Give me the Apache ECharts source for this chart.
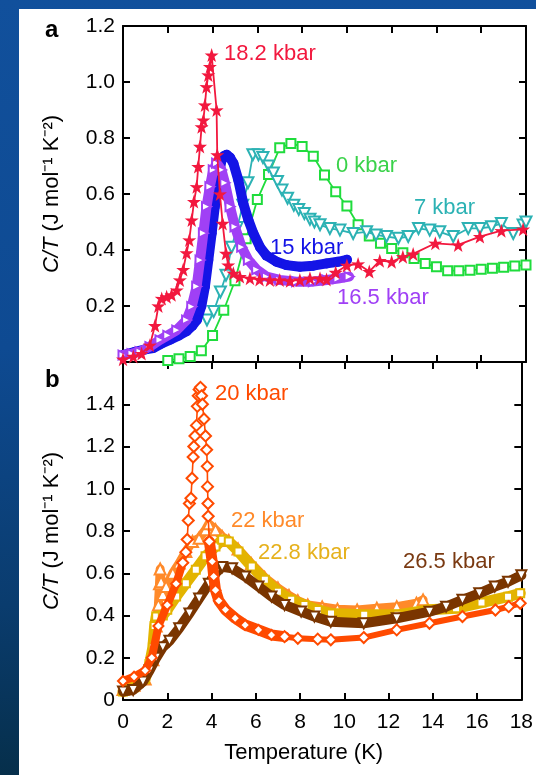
<!DOCTYPE html>
<html>
<head>
<meta charset="utf-8">
<script src="https://cdn.jsdelivr.net/npm/echarts@6/dist/echarts.min.js"></script>
<style>
html, body { margin: 0; padding: 0; }
body {
  width: 536px; height: 775px; overflow: hidden; position: relative;
  background: linear-gradient(180deg, #11509c 0%, #0e4a92 45%, #0a3c6e 78%, #062f4b 100%);
}
#panel { position: absolute; left: 19px; top: 9px; width: 517px; height: 766px; background: #fff; }
#chart { position: absolute; left: 0; top: 0; width: 536px; height: 775px; }
</style>
</head>
<body>
<div id="panel"></div>
<div id="chart"></div>
<script>
// axis ranges / ticks
const tempRange = [0, 18]
const tempStep = 2
const ctRangeA = [0, 1.2]
const ctRangeB = [0, 1.6]
const ctStep = 0.2

// panel a
const t0 = [2.0, 2.5, 3.0, 3.5, 4.0, 4.5, 5.0, 5.5, 6.0, 6.5, 7.0, 7.5, 8.0, 8.5, 9.0, 9.5, 10.0, 10.5, 11.0, 11.5, 12.0, 12.5, 13.0, 13.5, 14.0, 14.5, 15.0, 15.5, 16.0, 16.5, 17.0, 17.5, 18.0]
const c0 = [0.005, 0.012, 0.02, 0.04, 0.095, 0.185, 0.29, 0.44, 0.58, 0.67, 0.765, 0.78, 0.77, 0.735, 0.668, 0.608, 0.557, 0.49, 0.45, 0.424, 0.405, 0.39, 0.37, 0.352, 0.34, 0.326, 0.326, 0.328, 0.331, 0.335, 0.338, 0.343, 0.346]

const t7 = [3.75, 4.05, 4.35, 4.6, 4.85, 5.1, 5.35, 5.58, 5.8, 6.05, 6.25, 6.5, 6.72, 6.9, 7.1, 7.35, 7.63, 7.85, 8.1, 8.35, 8.55, 8.8, 9.24, 9.69, 10.28, 10.88, 11.3, 11.77, 12.3, 12.74, 13.2, 13.7, 14.15, 14.75, 15.42, 15.94, 16.46, 16.9, 17.43, 17.87, 18.0]
const c7 = [0.15, 0.18, 0.25, 0.31, 0.41, 0.48, 0.56, 0.64, 0.74, 0.74, 0.73, 0.70, 0.675, 0.645, 0.614, 0.585, 0.56, 0.545, 0.53, 0.51, 0.5, 0.49, 0.477, 0.471, 0.459, 0.465, 0.454, 0.448, 0.442, 0.448, 0.477, 0.471, 0.465, 0.448, 0.477, 0.477, 0.483, 0.495, 0.459, 0.489, 0.5]

const t15 = [0, 0.5, 1.0, 1.35, 1.7, 2.1, 2.5, 2.84, 3.1, 3.3, 3.5, 3.66, 3.81, 3.96, 4.1, 4.26, 4.4, 4.5, 4.63, 4.78, 4.93, 5.15, 5.37, 5.6, 5.82, 6.12, 6.41, 6.86, 7.3, 7.9, 8.5, 9.1, 9.6, 10.0]
const c15 = [0.025, 0.035, 0.045, 0.05, 0.065, 0.08, 0.095, 0.11, 0.13, 0.15, 0.2, 0.27, 0.364, 0.46, 0.555, 0.66, 0.72, 0.735, 0.74, 0.73, 0.71, 0.65, 0.567, 0.507, 0.46, 0.41, 0.38, 0.358, 0.346, 0.34, 0.344, 0.352, 0.358, 0.365]

const t165 = [0, 0.4, 0.76, 1.2, 1.65, 2.0, 2.4, 2.84, 3.07, 3.29, 3.44, 3.59, 3.73, 3.88, 4.03, 4.18, 4.4, 4.55, 4.78, 5.0, 5.3, 5.6, 5.97, 6.41, 7.0, 7.75, 8.5, 9.1, 9.6, 10.1]
const c165 = [0.025, 0.03, 0.037, 0.055, 0.079, 0.095, 0.114, 0.15, 0.198, 0.27, 0.364, 0.46, 0.555, 0.626, 0.686, 0.71, 0.686, 0.64, 0.555, 0.483, 0.41, 0.364, 0.33, 0.305, 0.293, 0.287, 0.287, 0.293, 0.298, 0.305]

const t182 = [0.0, 0.46, 0.83, 1.2, 1.43, 1.58, 1.73, 1.95, 2.17, 2.4, 2.54, 2.69, 2.84, 2.96, 3.07, 3.17, 3.29, 3.36, 3.44, 3.51, 3.59, 3.66, 3.73, 3.81, 3.88, 3.96, 4.18, 4.21, 4.33, 4.45, 4.6, 4.7, 4.93, 5.22, 5.67, 6.1, 6.56, 7.0, 7.46, 7.9, 8.35, 8.8, 9.09, 9.5, 10.0, 10.5, 11.0, 11.47, 12.0, 12.5, 12.96, 13.95, 14.97, 15.94, 16.9, 17.87]
const c182 = [0.01, 0.02, 0.03, 0.06, 0.13, 0.2, 0.227, 0.233, 0.24, 0.257, 0.293, 0.33, 0.39, 0.436, 0.507, 0.573, 0.626, 0.698, 0.77, 0.84, 0.864, 0.918, 0.983, 1.025, 1.055, 1.096, 0.9, 0.74, 0.6, 0.495, 0.388, 0.346, 0.317, 0.305, 0.299, 0.295, 0.293, 0.293, 0.29, 0.293, 0.299, 0.299, 0.295, 0.32, 0.345, 0.35, 0.323, 0.362, 0.358, 0.376, 0.386, 0.424, 0.418, 0.448, 0.469, 0.474]

// panel b
const t20 = [0, 0.5, 1.0, 1.3, 1.6, 2.0, 2.4, 2.7, 2.84, 2.9, 2.95, 3.0, 3.07, 3.12, 3.17, 3.2, 3.25, 3.32, 3.36, 3.4, 3.44, 3.5, 3.55, 3.59, 3.66, 3.73, 3.78, 3.81, 3.82, 3.84, 3.85, 3.9, 4.03, 4.1, 4.18, 4.33, 4.63, 5.07, 5.52, 6.12, 6.71, 7.3, 7.9, 8.8, 9.39, 10.88, 12.37, 13.85, 15.34, 16.83, 17.43, 17.95]
const c20 = [0.09, 0.11, 0.14, 0.2, 0.35, 0.45, 0.55, 0.65, 0.70, 0.76, 0.85, 0.93, 0.955, 1.05, 1.15, 1.2, 1.25, 1.3, 1.39, 1.44, 1.47, 1.48, 1.44, 1.40, 1.33, 1.25, 1.185, 1.106, 1.01, 0.93, 0.87, 0.75, 0.656, 0.585, 0.52, 0.47, 0.427, 0.387, 0.355, 0.332, 0.308, 0.3, 0.292, 0.288, 0.285, 0.2955, 0.332, 0.363, 0.395, 0.426, 0.442, 0.458]

const t22 = [0, 0.5, 1.0, 1.35, 1.5, 1.6, 1.65, 1.68, 1.72, 1.8, 1.95, 2.25, 2.54, 2.84, 3.14, 3.44, 3.73, 3.88, 4.18, 4.48, 4.78, 5.2, 5.8, 6.4, 7.0, 7.5, 7.9, 8.35, 9.0, 9.69, 10.58, 11.47, 12.37, 13.26, 13.56]
const c22 = [0.05, 0.07, 0.1, 0.19, 0.35, 0.45, 0.55, 0.62, 0.56, 0.5, 0.537, 0.6, 0.648, 0.703, 0.75, 0.766, 0.806, 0.834, 0.806, 0.774, 0.755, 0.715, 0.645, 0.58, 0.53, 0.495, 0.47, 0.45, 0.44, 0.43, 0.426, 0.434, 0.442, 0.458, 0.474]

const t228 = [0, 0.5, 1.0, 1.2, 1.35, 1.43, 1.5, 1.8, 2.0, 2.4, 2.84, 3.29, 3.73, 4.18, 4.48, 4.78, 5.22, 5.82, 6.41, 7.0, 7.6, 8.2, 8.8, 9.4, 10.9, 12.4, 13.85, 15.05, 16.2, 17.4, 17.95]
const c228 = [0.04, 0.06, 0.1, 0.17, 0.25, 0.35, 0.395, 0.4, 0.427, 0.49, 0.553, 0.616, 0.68, 0.727, 0.758, 0.75, 0.703, 0.632, 0.569, 0.513, 0.474, 0.45, 0.426, 0.41, 0.403, 0.403, 0.427, 0.434, 0.461, 0.489, 0.505]

const t265 = [0, 0.46, 0.9, 1.2, 1.5, 1.8, 2.1, 2.54, 3.0, 3.44, 3.88, 4.18, 4.48, 4.93, 5.52, 6.12, 6.71, 7.3, 8.05, 8.65, 9.39, 10.88, 12.37, 13.85, 14.6, 15.34, 16.1, 16.8, 17.4, 18.0]
const c265 = [0.04, 0.047, 0.087, 0.14, 0.2, 0.25, 0.28, 0.34, 0.41, 0.48, 0.55, 0.6, 0.63, 0.624, 0.585, 0.537, 0.49, 0.45, 0.419, 0.395, 0.37, 0.363, 0.387, 0.418, 0.442, 0.474, 0.505, 0.537, 0.56, 0.59]

const FONT = '"Liberation Sans", Arial, Helvetica, sans-serif'
const STAR = 'path://M50,0 L61.8,35.3 L97.6,34.5 L69.1,56.5 L79.4,90.5 L50,70 L20.6,90.5 L30.9,56.5 L2.4,34.5 L38.2,35.3 Z'

const col = {
  p0: '#1fdc3c', p7: '#2cb2b4', p15: '#1414e6', p165: '#a040f5', p182: '#f2183e',
  p20: '#ff4a00', p22: '#ff8a2a', p228: '#e3b400', p265: '#7a3500'
}

const pairs = (t, c) => t.map((x, i) => [x, c[i]])

const mk = (name, gi, data, o) => ({
  name, type: 'line', xAxisIndex: gi * 2, yAxisIndex: gi * 2, data,
  symbol: o.symbol, symbolSize: o.size, symbolRotate: o.rotate || 0,
  lineStyle: { color: o.color, width: o.lw, cap: 'round', join: 'round' },
  itemStyle: { color: o.color, borderWidth: o.bw },
  z: o.z, animation: false, silent: true
})

const cut = (t, lo, hi) => [t.findIndex(v => v >= lo), t.length - 1 - [...t].reverse().findIndex(v => v <= hi)]
const part = (t, c, lo, hi) => { const [a, b] = cut(t, lo, hi); return pairs(t.slice(a, b + 1), c.slice(a, b + 1)) }

const axLine = { show: true, onZero: false, lineStyle: { color: '#000', width: 2 } }
const axTick = { show: true, inside: true, length: 7, lineStyle: { color: '#000', width: 2 } }
const tickFont = { fontSize: 21, color: '#000', fontFamily: FONT }

const xAx = (gi, pos, lab) => ({
  type: 'value', gridIndex: gi, position: pos, min: tempRange[0], max: tempRange[1], interval: tempStep,
  axisLine: axLine, axisTick: axTick, splitLine: { show: false },
  axisLabel: lab ? Object.assign({ margin: 12 }, tickFont) : { show: false }
})
const yAx = (gi, pos, rng, fmt) => ({
  type: 'value', gridIndex: gi, position: pos, min: rng[0], max: rng[1], interval: ctStep,
  axisLine: axLine, axisTick: axTick, splitLine: { show: false },
  axisLabel: fmt ? Object.assign({ margin: 8, formatter: fmt }, tickFont) : { show: false }
})
const yName = {
  name: '{it|C/T} (J mol⁻¹ K⁻²)', nameLocation: 'middle', nameRotate: 90, nameGap: 60,
  nameTextStyle: { fontSize: 22, color: '#000', fontFamily: FONT,
    rich: { it: { fontStyle: 'italic', fontSize: 22, color: '#000', fontFamily: FONT } } }
}

const xAxis = [xAx(0, 'bottom', false), xAx(0, 'top', false), xAx(1, 'bottom', true), xAx(1, 'top', false)]
xAxis[2].name = 'Temperature (K)'
xAxis[2].nameLocation = 'middle'
xAxis[2].nameGap = 42
xAxis[2].nameTextStyle = { fontSize: 22, color: '#000', fontFamily: FONT, padding: [0, 37, 0, 0] }

const yAxis = [
  Object.assign(yAx(0, 'left', ctRangeA, v => (v < 0.01 ? '' : v.toFixed(1))), yName),
  yAx(0, 'right', ctRangeA, null),
  Object.assign(yAx(1, 'left', ctRangeB, v => (v < 0.01 ? '0' : v > 1.55 ? '' : v.toFixed(1))), yName),
  yAx(1, 'right', ctRangeB, null)
]

const series = [
  mk('0 kbar', 0, pairs(t0, c0), { symbol: 'emptyRect', size: 9, color: col.p0, lw: 1.8, bw: 2, z: 2 }),
  mk('7 kbar', 0, pairs(t7, c7), { symbol: 'emptyTriangle', size: 11, rotate: 180, color: col.p7, lw: 1.8, bw: 1.6, z: 3 }),
  mk('15 kbar', 0, pairs(t15, c15), { symbol: 'circle', size: 10, color: col.p15, lw: 10, bw: 0, z: 4 }),
  mk('16.5 kbar', 0, pairs(t165, c165), { symbol: 'emptyTriangle', size: 9, rotate: -90, color: col.p165, lw: 10, bw: 1.4, z: 5 }),
  mk('18.2 kbar', 0, pairs(t182, c182), { symbol: STAR, size: 14, color: col.p182, lw: 1.8, bw: 0, z: 6 }),

  mk('22 kbar', 1, pairs(t22, c22), { symbol: 'emptyTriangle', size: 11, color: col.p22, lw: 9, bw: 1.6, z: 2 }),
  mk('22.8 kbar', 1, pairs(t228, c228), { symbol: 'emptyRect', size: 8, color: col.p228, lw: 11, bw: 2, z: 3 }),
  mk('26.5 kbar', 1, pairs(t265, c265), { symbol: 'emptyTriangle', size: 10, rotate: 180, color: col.p265, lw: 10, bw: 1.6, z: 4 }),
  mk('20 kbar', 1, part(t20, c20, 0, 2.7), { symbol: 'emptyDiamond', size: 10, color: col.p20, lw: 8, bw: 1.6, z: 5 }),
  mk('20 kbar peak', 1, part(t20, c20, 2.7, 3.9), { symbol: 'emptyDiamond', size: 11, color: col.p20, lw: 1.6, bw: 1.8, z: 6 }),
  mk('20 kbar tail', 1, part(t20, c20, 3.9, 7.3), { symbol: 'emptyDiamond', size: 10, color: col.p20, lw: 11, bw: 1.6, z: 5 }),
  mk('20 kbar high T', 1, part(t20, c20, 7.3, 18), { symbol: 'emptyDiamond', size: 11, color: col.p20, lw: 6, bw: 1.8, z: 5 })
]

const txt = (s, x, y, color, extra) => ({
  type: 'text', x, y, z: 20, silent: true,
  style: Object.assign({ text: s, fill: color, fontSize: 22, fontFamily: FONT,
    align: 'left', verticalAlign: 'middle', textAlign: 'left', textVerticalAlign: 'middle' }, extra || {})
})

const graphic = [
  txt('a', 45, 30, '#000', { fontSize: 24, fontWeight: 'bold' }),
  txt('b', 45, 380, '#000', { fontSize: 24, fontWeight: 'bold' }),
  txt('18.2 kbar', 224, 54, col.p182),
  txt('0 kbar', 336, 166, '#3ad24a'),
  txt('7 kbar', 414, 208, col.p7),
  txt('15 kbar', 270, 248, col.p15),
  txt('16.5 kbar', 337, 298, col.p165),
  txt('20 kbar', 215, 394, col.p20),
  txt('22 kbar', 231, 521, col.p22),
  txt('22.8 kbar', 258, 553, '#e6b11c'),
  txt('26.5 kbar', 403, 562, '#7a3a12')
]

const chart = echarts.init(document.getElementById('chart'), null, { renderer: 'canvas' })
chart.setOption({
  backgroundColor: 'transparent',
  animation: false,
  grid: [
    { left: 123, right: 10, top: 26, height: 336 },
    { left: 123, right: 10, top: 362, height: 338 }
  ],
  xAxis, yAxis, series, graphic
})
</script>
</body>
</html>
